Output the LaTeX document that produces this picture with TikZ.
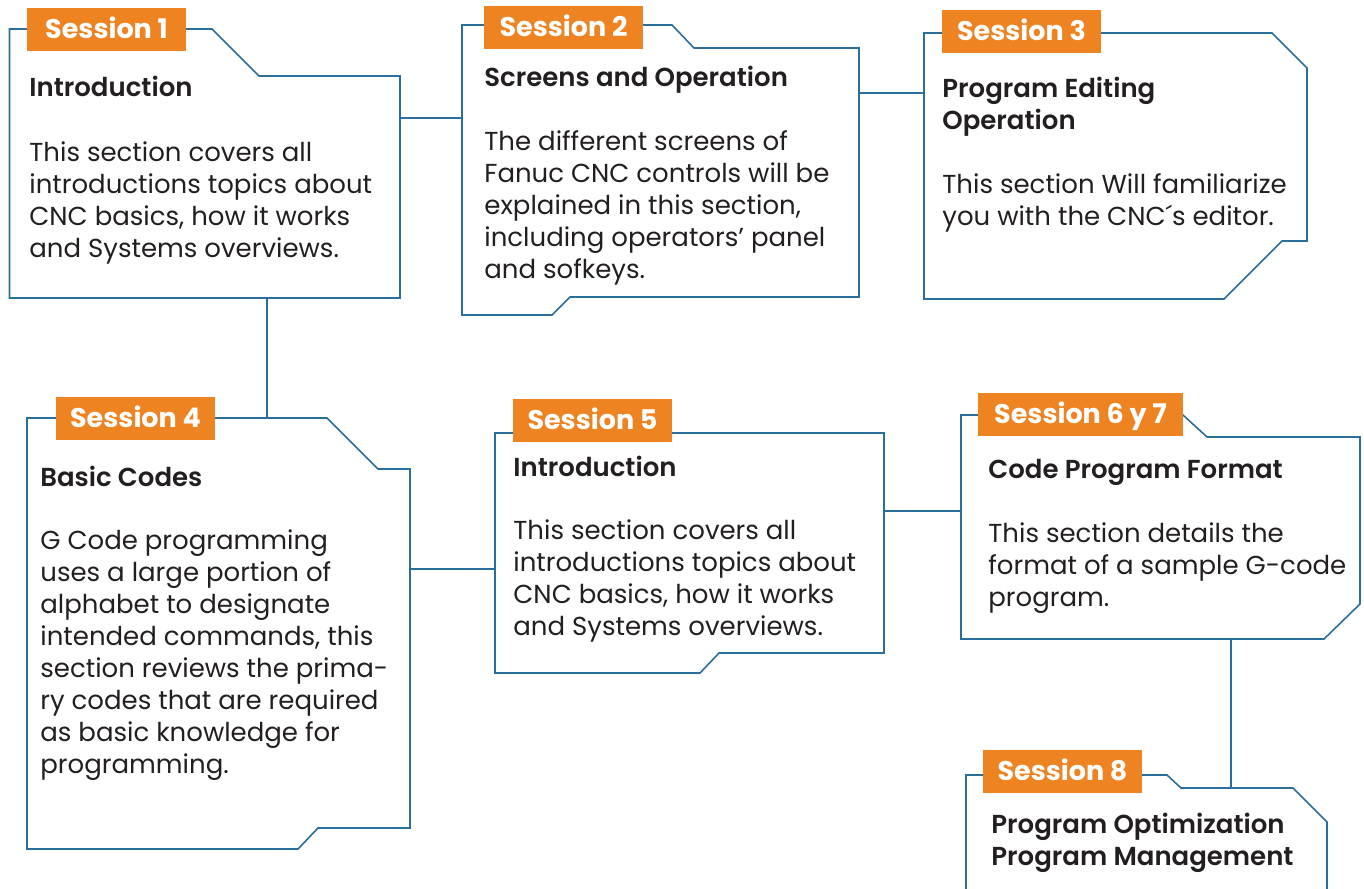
\documentclass[tikz,border=0pt]{standalone}
\usepackage{fontspec}
\setmainfont{Poppins}
\newfontfamily\semib{Poppins SemiBold}
\definecolor{lineblue}{HTML}{2A6E9C}
\definecolor{tagorange}{HTML}{EE8322}
\definecolor{ink}{HTML}{231F20}
\tikzset{
  frame/.style={draw=lineblue, line width=0.8pt, line join=miter},
  link/.style={draw=lineblue, line width=0.8pt},
  tag/.style={fill=tagorange, text=white, font=\bfseries\fontsize{13.5}{16}\selectfont,
    inner sep=0pt, minimum height=21.5pt, minimum width=79.5pt, text height=9.4pt, text depth=0pt},
  title/.style={anchor=base west, inner sep=0pt, text=ink, align=left, font=\semib\fontsize{13}{16}\selectfont},
  body/.style={anchor=base west, inner sep=0pt, text=ink, align=left, font=\fontsize{13}{16}\selectfont}
}
\begin{document}
\begin{tikzpicture}[x=0.5pt,y=-0.5pt]
\useasboundingbox (0,0) rectangle (1364,888);
% box outlines
\draw[frame] (9.5,29) -- (212,29) -- (259,76) -- (400,76) -- (400,298) -- (9.5,298) -- cycle;
\draw[frame] (462,25) -- (672,25) -- (694,48) -- (859,48) -- (859,297) -- (570,297) -- (552,315) -- (462,315) -- cycle;
\draw[frame] (924,33) -- (1272,33) -- (1307,68) -- (1307,241) -- (1282,241) -- (1224,299) -- (924,299) -- cycle;
\draw[frame] (27,418) -- (327,418) -- (378,469) -- (410,469) -- (410,828) -- (318,828) -- (298,849) -- (27,849) -- cycle;
\draw[frame] (495,433) -- (884,433) -- (884,653) -- (719,653) -- (700,673) -- (495,673) -- cycle;
\draw[frame] (961,415) -- (1183,415) -- (1207,437) -- (1360,437) -- (1360,604) -- (1324,639) -- (961,639) -- cycle;
\draw[frame] (966,892) -- (966,775) -- (1167,775) -- (1181,788) -- (1293,788) -- (1327,822) -- (1327,892);
% connector end points
\coordinate (b1e) at (400,118);
\coordinate (b2w) at (462,118);
\coordinate (b1s) at (267,298);
\coordinate (b4n) at (267,418);
\coordinate (b2e) at (859,93);
\coordinate (b3w) at (924,93);
\coordinate (b4e) at (410,569);
\coordinate (b5w) at (495,569);
\coordinate (b5e) at (884,511);
\coordinate (b6w) at (961,511);
\coordinate (b6s) at (1231,639);
\coordinate (b8n) at (1231,788);
\draw[link] (b1e) -- (b2w);
\draw[link] (b1s) -- (b4n);
\draw[link] (b2e) -- (b3w);
\draw[link] (b4e) -- (b5w);
\draw[link] (b5e) -- (b6w);
\draw[link] (b6s) -- (b8n);
% tags
\node[tag] (t1) at (106.5,29.5) {Session 1};
\node[tag] (t2) at (563.5,27.5) {Session 2};
\node[tag] (t3) at (1021.5,31.5) {Session 3};
\node[tag] (t4) at (135.5,418.5) {Session 4};
\node[tag] (t5) at (592.5,420.5) {Session 5};
\node[tag, minimum width=102.5pt] (t6) at (1080.5,414.5) {Session 6 y 7};
\node[tag] (t8) at (1062.5,771.5) {Session 8};
% titles (base = last line)
\node[title] (h1) at (29,97) {Introduction};
\node[title] (h2) at (484,87) {Screens and Operation};
\node[title] (h3) at (942,129) {Program Editing\\Operation};
\node[title] (h4) at (40,486) {Basic Codes};
\node[title] (h5) at (513,476) {Introduction};
\node[title] (h6) at (988,478) {Code Program Format};
\node[title] (h8) at (991,865) {Program Optimization\\Program Management};
% bodies (base = last line)
\node[body] (p1) at (29,257) {This section covers all\\introductions topics about\\CNC basics, how it works\\and Systems overviews.};
\node[body] (p2) at (484,278) {The different screens of\\Fanuc CNC controls will be\\explained in this section,\\including operators’ panel\\and sofkeys.};
\node[body] (p3) at (942,225) {This section Will familiarize\\you with the CNC´s editor.};
\node[body] (p4) at (40,773) {G Code programming\\uses a large portion of\\alphabet to designate\\intended commands, this\\section reviews the prima-\\ry codes that are required\\as basic knowledge for\\programming.};
\node[body] (p5) at (513,635) {This section covers all\\introductions topics about\\CNC basics, how it works\\and Systems overviews.};
\node[body] (p6) at (988,606) {This section details the\\format of a sample G-code\\program.};
\end{tikzpicture}
\end{document}
